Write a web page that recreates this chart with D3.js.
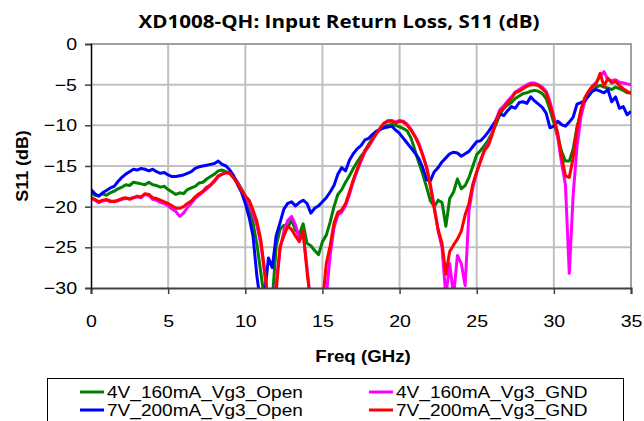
<!DOCTYPE html>
<html>
<head>
<meta charset="utf-8">
<script src="https://cdn.jsdelivr.net/npm/d3@7"></script>
<style>
body { margin: 0; background: #fff; }
svg { display: block; font-family: Arial, "Liberation Sans", sans-serif; }
</style>
</head>
<body>
<svg id="s11_chart" width="644" height="421"></svg>
<script>
/**
* Chart texts and axis ticks
*/
var chart_title = "XD1008-QH: Input Return Loss, S11 (dB)";
var x_title = "Freq (GHz)";
var y_title = "S11 (dB)";
var x_ticks = [0, 5, 10, 15, 20, 25, 30, 35];
var y_ticks = [0, -5, -10, -15, -20, -25, -30];

/* Series names, in legend order */
var series_names = ["4V_160mA_Vg3_Open", "4V_160mA_Vg3_GND", "7V_200mA_Vg3_Open", "7V_200mA_Vg3_GND"];
var series_colors = ["#008000", "#ff00ff", "#0000ff", "#ff0000"];

/* Frequency points (GHz), sweep in 0.25 GHz steps */
var freq = d3.range(141).map(function(i) { return i * 0.25; });

/* S11 (dB), one row per 5 GHz */
var s11_4v_open = [
	-18.3,-18.6,-18.7,-18.4,-18.6,-18.3,-18.1,-17.8,-17.6,-17.3,-17.4,-17.0,-17.1,-17.2,-17.3,-17.0,-17.3,-17.4,-17.6,-17.5,
	-17.9,-18.2,-18.5,-18.3,-18.4,-17.9,-17.7,-17.5,-17.1,-17.0,-16.6,-16.3,-16.0,-15.6,-15.5,-15.7,-15.9,-16.4,-17.0,-17.8,
	-18.7,-20.2,-22.0,-24.6,-28.0,-31.5,-33,-31.5,-24.9,-22.8,-22.3,-22.6,-21.6,-22.9,-23.4,-22.1,-24.5,-24.8,-25.4,-25.9,
	-24.3,-23.5,-21.9,-20.0,-18.5,-17.9,-17.0,-16.2,-15.3,-14.5,-13.8,-13.2,-12.3,-11.6,-10.95,-10.5,-10.1,-10.0,-9.9,-10.0,
	-10.2,-10.4,-10.7,-11.6,-13.1,-14.6,-16.0,-17.6,-19.3,-20.0,-19.2,-19.5,-22.4,-19.0,-18.2,-16.6,-17.8,-17.4,-16.4,-15.0,
	-13.6,-13.1,-12.5,-11.8,-10.9,-9.9,-8.7,-7.9,-7.5,-7.2,-6.7,-6.4,-6.1,-6.0,-5.8,-5.7,-5.8,-6.1,-6.7,-8.1,
	-9.7,-11.4,-13.2,-14.4,-14.4,-12.9,-10.2,-8.5,-7.1,-6.2,-5.6,-5.3,-5.1,-5.3,-5.4,-5.6,-5.3,-5.5,-5.7,-6.0,
	-6.0
];
var s11_4v_gnd = [
	-19.0,-19.2,-19.5,-19.3,-19.2,-19.4,-19.3,-19.3,-19.1,-19.0,-19.0,-18.9,-18.8,-18.9,-18.5,-18.6,-19.1,-19.2,-19.5,-19.6,
	-19.9,-20.3,-20.6,-21.2,-20.8,-20.1,-19.6,-19.0,-18.6,-18.2,-17.8,-17.4,-16.9,-16.3,-16.0,-15.8,-15.9,-16.4,-17.0,-17.9,
	-18.8,-19.6,-20.9,-22.3,-24.5,-28.2,-32,-32,-29.5,-25.3,-23.0,-21.7,-21.2,-22.2,-24.0,-23.3,-27.5,-32,-33,-33,
	-33,-31,-26.0,-22.6,-21.0,-20.7,-19.9,-18.5,-16.9,-15.6,-14.4,-13.3,-12.6,-11.8,-11.0,-10.3,-9.8,-9.4,-9.4,-9.6,
	-9.4,-9.5,-9.9,-10.5,-11.3,-12.2,-13.6,-15.1,-17.3,-20.0,-23.0,-25.0,-31,-27.0,-31,-26.0,-27.0,-29.7,-20.5,-17.6,
	-15.8,-14.3,-13.0,-12.3,-11.0,-9.3,-8.1,-7.6,-7.0,-6.5,-5.9,-5.6,-5.3,-5.0,-4.8,-4.8,-5.0,-5.3,-5.8,-7.1,
	-9.0,-11.5,-14.6,-17.3,-28.2,-18.6,-12.6,-9.0,-7.0,-6.0,-5.2,-4.7,-4.0,-3.4,-4.4,-4.5,-4.4,-4.7,-4.8,-4.9,
	-5.0
];
var s11_7v_open = [
	-17.9,-18.4,-18.7,-18.3,-18.0,-17.7,-17.5,-16.9,-16.4,-16.0,-15.7,-15.4,-15.5,-15.3,-15.4,-15.6,-15.4,-15.7,-15.9,-15.8,
	-16.1,-16.3,-16.3,-16.2,-16.1,-15.9,-15.7,-15.3,-15.1,-15.0,-14.9,-14.8,-14.7,-14.4,-14.8,-15.0,-15.5,-16.2,-17.3,-18.2,
	-19.6,-21.3,-23.6,-28.5,-32,-31,-26.3,-27.5,-23.6,-22.0,-20.3,-19.6,-19.4,-19.9,-19.5,-19.2,-19.6,-20.8,-20.2,-19.9,
	-19.4,-18.9,-18.2,-17.4,-16.0,-15.2,-15.6,-14.3,-13.5,-12.9,-12.5,-11.8,-11.6,-11.1,-10.7,-10.5,-10.3,-10.2,-10.1,-10.6,
	-11.0,-11.6,-12.2,-12.8,-13.4,-14.1,-15.2,-16.7,-16.8,-15.7,-15.2,-14.5,-14.0,-13.5,-13.3,-13.4,-13.8,-13.5,-13.2,-12.6,
	-12.0,-11.9,-11.4,-10.8,-10.1,-9.4,-8.6,-8.8,-8.2,-7.7,-7.9,-7.2,-7.1,-7.3,-6.5,-7.0,-7.4,-7.8,-8.5,-10.3,
	-10.1,-9.5,-9.9,-10.1,-9.6,-9.0,-7.4,-7.2,-7.0,-6.4,-5.8,-5.6,-5.8,-6.0,-5.6,-7.1,-6.5,-7.9,-7.7,-8.7,
	-8.3
];
var s11_7v_gnd = [
	-18.9,-19.1,-19.4,-19.2,-19.1,-19.3,-19.4,-19.2,-19.0,-18.9,-19.1,-18.9,-18.7,-18.8,-18.4,-18.5,-18.9,-19.0,-19.2,-19.4,
	-19.6,-19.9,-20.2,-20.2,-20.0,-19.6,-19.3,-18.8,-18.4,-18.1,-17.6,-17.3,-16.8,-16.2,-16.0,-15.8,-15.9,-16.5,-17.2,-18.0,
	-18.7,-19.2,-20.4,-21.8,-24.0,-27.8,-32,-32,-30.5,-24.9,-23.6,-22.4,-22.8,-23.6,-24.3,-23.0,-28.0,-32,-33,-33,
	-32,-27.0,-24.8,-22.0,-20.7,-20.4,-19.6,-18.2,-16.7,-15.4,-14.2,-13.1,-12.5,-11.7,-11.0,-10.3,-9.7,-9.5,-9.5,-9.7,
	-9.5,-9.6,-10.0,-10.6,-11.4,-12.4,-13.7,-15.2,-17.5,-20.3,-22.8,-24.5,-28.3,-25.5,-24.7,-24.0,-23.0,-21.0,-19.6,-17.2,
	-15.7,-14.4,-13.1,-12.5,-11.2,-9.5,-8.3,-7.9,-7.2,-6.7,-6.0,-5.8,-5.5,-5.2,-5.0,-5.0,-5.1,-5.5,-6.0,-7.5,
	-9.1,-10.95,-13.8,-16.2,-16.4,-14.0,-10.4,-8.1,-6.6,-5.8,-5.2,-4.9,-3.6,-5.2,-4.2,-4.8,-4.6,-5.1,-5.5,-5.8,
	-6.1
];

/**
* @func Stretch a text horizontally (the source chart is wider than its fonts)
*/
function stretch(sel, factor)
{
	sel.each(function() {
		var w = this.getComputedTextLength();
		d3.select(this).attr("textLength", w * factor).attr("lengthAdjust", "spacingAndGlyphs");
	});
}

/**
* @func Draw the whole chart
*/
function draw_chart()
{
	let svg = d3.select("#s11_chart");
	let left = 91, right = 631, top = 44, bottom = 288;

	let x = d3.scaleLinear().domain([0, 35]).range([left, right]);
	let y = d3.scaleLinear().domain([-30, 0]).range([bottom, top]);

	svg.append("rect").attr("width", 644).attr("height", 421).attr("fill", "#fff");

	/* grid */
	let grid = svg.append("g").attr("stroke", "#c0c0c0").attr("stroke-width", 2);
	grid.selectAll(".gx").data(x_ticks.slice(1, -1)).enter().append("line")
		.attr("x1", d => x(d)).attr("x2", d => x(d))
		.attr("y1", top).attr("y2", bottom);
	grid.selectAll(".gy").data(y_ticks.slice(1, -1)).enter().append("line")
		.attr("x1", left).attr("x2", right)
		.attr("y1", d => y(d)).attr("y2", d => y(d));

	/* plot frame (top / right) */
	svg.append("path")
		.attr("d", "M" + left + "," + top + "H" + right + "V" + bottom)
		.attr("fill", "none").attr("stroke", "#a0a0a0").attr("stroke-width", 2);

	/* curves */
	svg.append("clipPath").attr("id", "plot_clip")
		.append("rect").attr("x", left).attr("y", top)
		.attr("width", right - left).attr("height", bottom - top);

	let all_series = [s11_4v_open, s11_4v_gnd, s11_7v_open, s11_7v_gnd];
	let line = d3.line()
		.x((d, i) => x(freq[i]))
		.y(d => y(d));

	let curves = svg.append("g").attr("clip-path", "url(#plot_clip)");
	curves.selectAll("path").data(all_series).enter().append("path")
		.attr("d", line)
		.attr("fill", "none")
		.attr("stroke", (d, i) => series_colors[i])
		.attr("stroke-width", 3)
		.attr("stroke-linejoin", "round");

	/* axes */
	let x_axis = svg.append("g")
		.attr("transform", "translate(0," + bottom + ")")
		.call(d3.axisBottom(x).tickValues(x_ticks).tickSize(6).tickPadding(21));
	let y_axis = svg.append("g")
		.attr("transform", "translate(" + left + ",0)")
		.call(d3.axisLeft(y).tickValues(y_ticks).tickSize(6).tickPadding(8));

	x_axis.select(".domain").attr("stroke", "#404040").attr("stroke-width", 2);
	y_axis.select(".domain").attr("stroke", "#000").attr("stroke-width", 1.5);
	x_axis.selectAll(".tick line").attr("stroke", "#404040").attr("stroke-width", 1.5);
	y_axis.selectAll(".tick line").attr("stroke", "#404040").attr("stroke-width", 1.5);

	svg.selectAll(".tick text")
		.attr("font-family", "Arial, 'Liberation Sans', sans-serif")
		.attr("font-size", 17).attr("fill", "#000");
	stretch(svg.selectAll(".tick text"), 1.15);

	/* titles */
	svg.append("text")
		.attr("x", 339).attr("y", 28)
		.attr("text-anchor", "middle")
		.attr("font-family", "'Open Sans', 'Noto Sans', sans-serif")
		.attr("font-weight", "bold").attr("font-size", 17)
		.attr("textLength", 401).attr("lengthAdjust", "spacingAndGlyphs")
		.text(chart_title);

	let xt = svg.append("text")
		.attr("x", 363).attr("y", 362)
		.attr("text-anchor", "middle")
		.attr("font-weight", "bold").attr("font-size", 17)
		.text(x_title);
	stretch(xt, 1.1);

	let yt = svg.append("text")
		.attr("transform", "translate(28,166) rotate(-90)")
		.attr("text-anchor", "middle")
		.attr("font-weight", "bold").attr("font-size", 17)
		.text(y_title);
	stretch(yt, 1.05);

	/* legend */
	let legend = svg.append("g");
	legend.append("rect")
		.attr("x", 47.5).attr("y", 378.5).attr("width", 576).attr("height", 60)
		.attr("fill", "#fff").attr("stroke", "#000").attr("stroke-width", 1);

	let item = legend.selectAll(".item").data(series_names).enter().append("g")
		.attr("transform", (d, i) => "translate(" + (i % 2 ? 369 : 80) + "," + (i < 2 ? 392 : 410) + ")");
	item.append("line")
		.attr("x1", 0).attr("x2", 24).attr("y1", 0).attr("y2", 0)
		.attr("stroke", (d, i) => series_colors[i]).attr("stroke-width", 3);
	let lt = item.append("text")
		.attr("x", 27).attr("y", 6)
		.attr("font-size", 17)
		.text(d => d);
	stretch(lt, 1.12);
}

draw_chart();
</script>
</body>
</html>
